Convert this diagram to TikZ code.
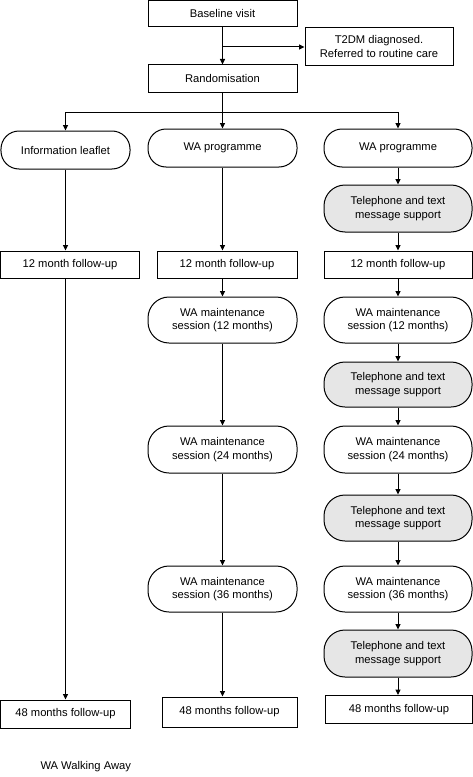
\documentclass[tikz,border=0pt]{standalone}
\usepackage{fontspec}
\setmainfont{Liberation Sans}
\usetikzlibrary{arrows.meta}
\definecolor{telgray}{HTML}{E6E6E6}
\begin{document}
\begin{tikzpicture}[x=1bp,y=-1bp,
  every node/.style={font=\fontsize{11.2bp}{13.3bp}\selectfont, align=center, inner sep=0pt, line width=1bp},
  sqbox/.style={draw, rectangle},
  rbox/.style={draw, rectangle, rounded corners=18bp},
  rboxb/.style={draw, rectangle, rounded corners=21bp},
  telbox/.style={rboxb, fill=telgray},
  conn/.style={line width=1bp},
  arr/.style={conn, -{Triangle[length=5.5bp,width=5bp]}}]
\useasboundingbox (0,0) rectangle (473,777);
% top
\node[sqbox, minimum width=149bp, minimum height=26.5bp] (base) at (222.5,13.75) {Baseline visit};
\node[sqbox, minimum width=148bp, minimum height=37bp] (t2dm) at (379,46.5) {T2DM diagnosed.\\Referred to routine care};
\node[sqbox, minimum width=149bp, minimum height=27bp] (rand) at (222.5,78.5) {Randomisation};
\coordinate (br) at (222.5,47);
\coordinate (sp) at (222.5,112);
% column 1
\node[rbox, minimum width=129bp, minimum height=38bp] (info) at (65.5,150) {Information leaflet};
\node[sqbox, minimum width=138bp, minimum height=27bp] (f12a) at (70,264.5) {12 month follow-up};
\node[sqbox, minimum width=129bp, minimum height=28bp] (f48a) at (65.5,714) {48 months follow-up};
% column 2
\node[rbox, minimum width=149bp, minimum height=38bp] (wa2) at (222.5,148) {WA programme};
\node[sqbox, minimum width=140bp, minimum height=27bp] (f12b) at (227,264.5) {12 month follow-up};
\node[rboxb, minimum width=149bp, minimum height=46bp] (m12b) at (222.5,320) {WA maintenance\\session (12 months)};
\node[rboxb, minimum width=149bp, minimum height=47bp] (m24b) at (222.5,449.5) {WA maintenance\\session (24 months)};
\node[rboxb, minimum width=149bp, minimum height=46bp] (m36b) at (222.5,589) {WA maintenance\\session (36 months)};
\node[sqbox, minimum width=135bp, minimum height=30bp] (f48b) at (229.5,712) {48 months follow-up};
% column 3
\node[rbox, minimum width=148bp, minimum height=38bp] (wa3) at (398,148) {WA programme};
\node[telbox, minimum width=148bp, minimum height=47bp] (tel1) at (398,208.5) {Telephone and text\\message support};
\node[sqbox, minimum width=148bp, minimum height=27bp] (f12c) at (398,264.5) {12 month follow-up};
\node[rboxb, minimum width=148bp, minimum height=46bp] (m12c) at (398,320) {WA maintenance\\session (12 months)};
\node[telbox, minimum width=148bp, minimum height=45bp] (tel2) at (398,384.5) {Telephone and text\\message support};
\node[rboxb, minimum width=148bp, minimum height=47bp] (m24c) at (398,449.5) {WA maintenance\\session (24 months)};
\node[telbox, minimum width=148bp, minimum height=46bp] (tel3) at (398,518) {Telephone and text\\message support};
\node[rboxb, minimum width=148bp, minimum height=46bp] (m36c) at (398,589) {WA maintenance\\session (36 months)};
\node[telbox, minimum width=148bp, minimum height=47bp] (tel4) at (398,653.5) {Telephone and text\\message support};
\node[sqbox, minimum width=147bp, minimum height=28bp] (f48c) at (399,709.5) {48 months follow-up};
% caption
\node[anchor=west] (cap) at (40,767) {WA Walking Away};
% connectors top
\draw[arr] (base.south) -- (rand.north);
\draw[arr] (br) -- (br -| t2dm.west);
\draw[conn] (rand.south) -- (sp);
\draw[arr] (sp) -| (info.north);
\draw[arr] (sp) -- (wa2.north);
\draw[arr] (sp) -| (wa3.north);
% column 1
\draw[arr] (info.south) -- (info.south |- f12a.north);
\draw[arr] (info.south |- f12a.south) -- (info.south |- f48a.north);
% column 2
\draw[arr] (wa2.south) -- (wa2.south |- f12b.north);
\draw[arr] (wa2.south |- f12b.south) -- (m12b.north);
\draw[arr] (m12b.south) -- (m24b.north);
\draw[arr] (m24b.south) -- (m36b.north);
\draw[arr] (m36b.south) -- (m36b.south |- f48b.north);
% column 3
\draw[arr] (wa3.south) -- (tel1.north);
\draw[arr] (tel1.south) -- (f12c.north);
\draw[arr] (f12c.south) -- (m12c.north);
\draw[arr] (m12c.south) -- (tel2.north);
\draw[arr] (tel2.south) -- (m24c.north);
\draw[arr] (m24c.south) -- (tel3.north);
\draw[arr] (tel3.south) -- (m36c.north);
\draw[arr] (m36c.south) -- (tel4.north);
\draw[arr] (tel4.south) -- (tel4.south |- f48c.north);
\end{tikzpicture}
\end{document}
